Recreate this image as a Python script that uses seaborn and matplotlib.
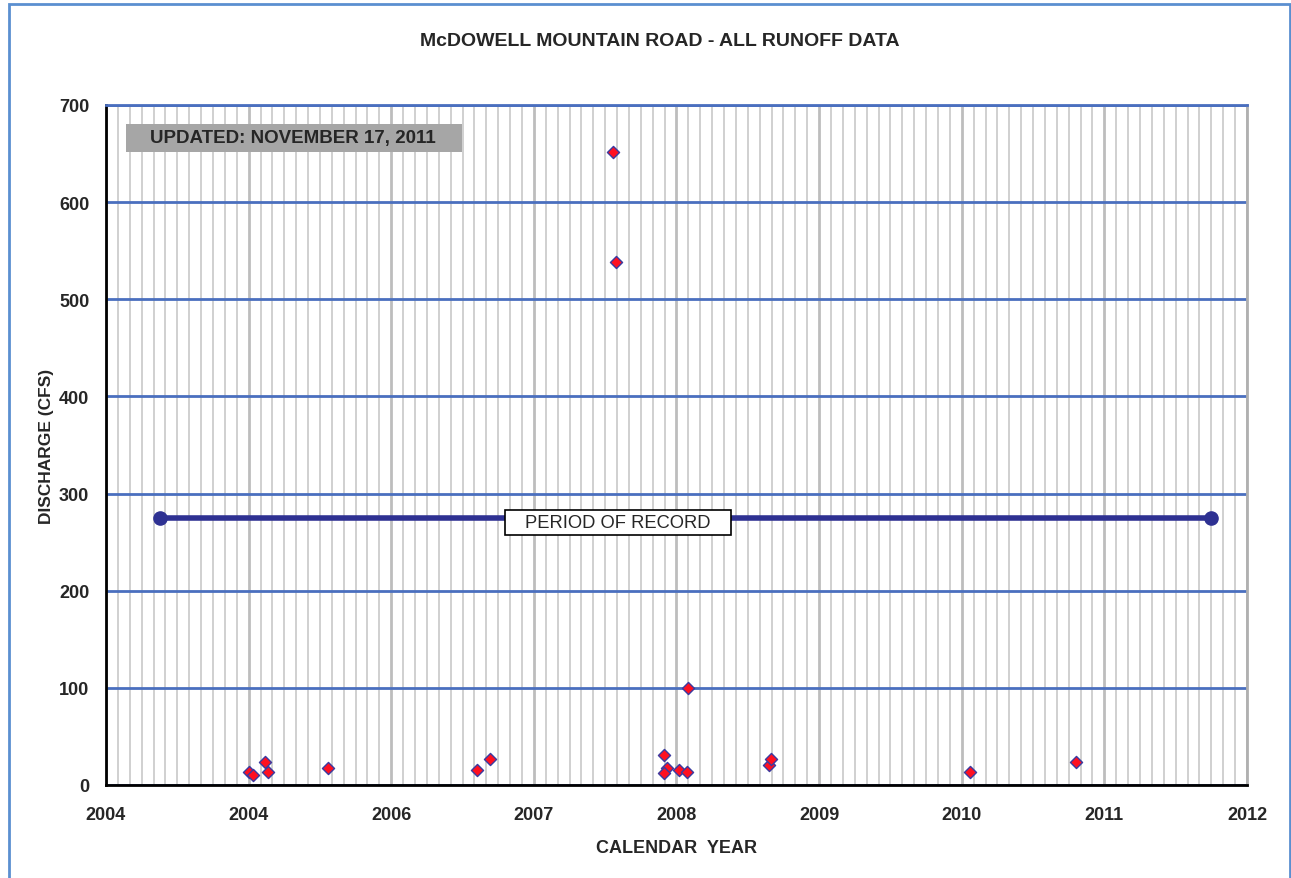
import matplotlib
matplotlib.use("Agg")

import numpy as np
import pandas as pd
import matplotlib.pyplot as plt
import seaborn as sns
from matplotlib.ticker import MultipleLocator
from matplotlib.patches import Rectangle

sns.set_style("white")
plt.rcParams["font.family"] = ["Liberation Sans", "DejaVu Sans"]

# x positions are in axis units (one unit per labelled year tick)
tick_labels = ["2004", "2004", "2006", "2007", "2008", "2009", "2010", "2011", "2012"]
event_pos = [1.003, 1.029, 1.115, 1.138, 1.555, 2.604, 2.691, 3.555, 3.579, 3.913,
             3.936, 3.913, 4.018, 4.079, 4.074, 4.649, 4.663, 6.061, 6.804]
discharge = [13, 10, 24, 13, 18, 15, 27, 652, 538, 31,
             18, 12, 15, 100, 13, 21, 27, 13, 24]
record_pos = [0.378, 7.748]
record_level = [275, 275]

df = pd.DataFrame({"pos": event_pos, "cfs": discharge})

fig = plt.figure(figsize=(12.91, 8.79), dpi=100)
ax = fig.add_axes([106 / 1291, 1 - 786 / 879, 1141 / 1291, 680 / 879])

# gridlines
ax.set_xlim(0, 8)
ax.set_ylim(0, 700)
ax.xaxis.set_major_locator(MultipleLocator(1))
ax.xaxis.set_minor_locator(MultipleLocator(1 / 12))
ax.yaxis.set_major_locator(MultipleLocator(100))
ax.grid(False)
ax.grid(which="minor", axis="x", color="#d0d0d0", lw=1.4, zorder=0)
ax.grid(which="major", axis="x", color="#bdbdbd", lw=2.0, zorder=0)
ax.grid(which="major", axis="y", color="#4a6fbf", lw=2.0, zorder=1)
ax.set_axisbelow(True)

# period of record
ax.plot(record_pos, record_level, color="#2e3192", lw=4.0, marker="o", ms=9.5,
        solid_capstyle="butt", zorder=3)
ax.add_patch(Rectangle((2.798, 257.4), 1.585, 25.7, fc="white", ec="black", lw=1.2, zorder=4))
ax.text(3.59, 270, "PERIOD OF RECORD", ha="center", va="center", fontsize=13.2, zorder=5)

sns.scatterplot(data=df, x="pos", y="cfs", ax=ax, marker="D", s=38,
                color="#ff1020", edgecolor="#3a3aa0", linewidth=1.0, zorder=5, legend=False)

# updated box
ax.add_patch(Rectangle((20 / 1141, (786 - 153) / 680), 336 / 1141, 28 / 680,
                       transform=ax.transAxes, fc="#a6a6a6", ec="none", zorder=4))
ax.text(44 / 1141, (786 - 139) / 680, "UPDATED: NOVEMBER 17, 2011", transform=ax.transAxes,
        ha="left", va="center", fontsize=13.5, fontweight="bold", zorder=5)

ax.set_xticks(range(len(tick_labels)))
ax.set_xticklabels(tick_labels)
ax.tick_params(axis="both", which="major", direction="out", length=6, width=2,
               labelsize=13, color="black")
ax.tick_params(axis="x", pad=9)
ax.tick_params(axis="y", pad=6)
ax.tick_params(which="minor", length=0)
for lab in ax.get_xticklabels() + ax.get_yticklabels():
    lab.set_fontweight("bold")

for side in ["left", "bottom"]:
    ax.spines[side].set_color("black")
    ax.spines[side].set_linewidth(2)
ax.spines["right"].set_color("#b0b0b0")
ax.spines["right"].set_linewidth(2)
ax.spines["top"].set_color("#4a6fbf")
ax.spines["top"].set_linewidth(2)

ax.set_xlabel("CALENDAR  YEAR", fontsize=13, fontweight="bold", labelpad=12)
ax.set_ylabel("DISCHARGE (CFS)", fontsize=12.5, fontweight="bold", labelpad=4)
fig.text(660 / 1291, 1 - 42 / 879, "McDOWELL MOUNTAIN ROAD - ALL RUNOFF DATA",
         ha="center", va="center", fontsize=14, fontweight="bold")

# outer frame
fig.patches.append(Rectangle((9 / 1291, -0.01), 1281 / 1291, 1 - 5 / 879 + 0.01,
                             transform=fig.transFigure, fill=False, ec="#5b8fd0", lw=2))

plt.savefig("out.png", dpi=100)
plt.close()
